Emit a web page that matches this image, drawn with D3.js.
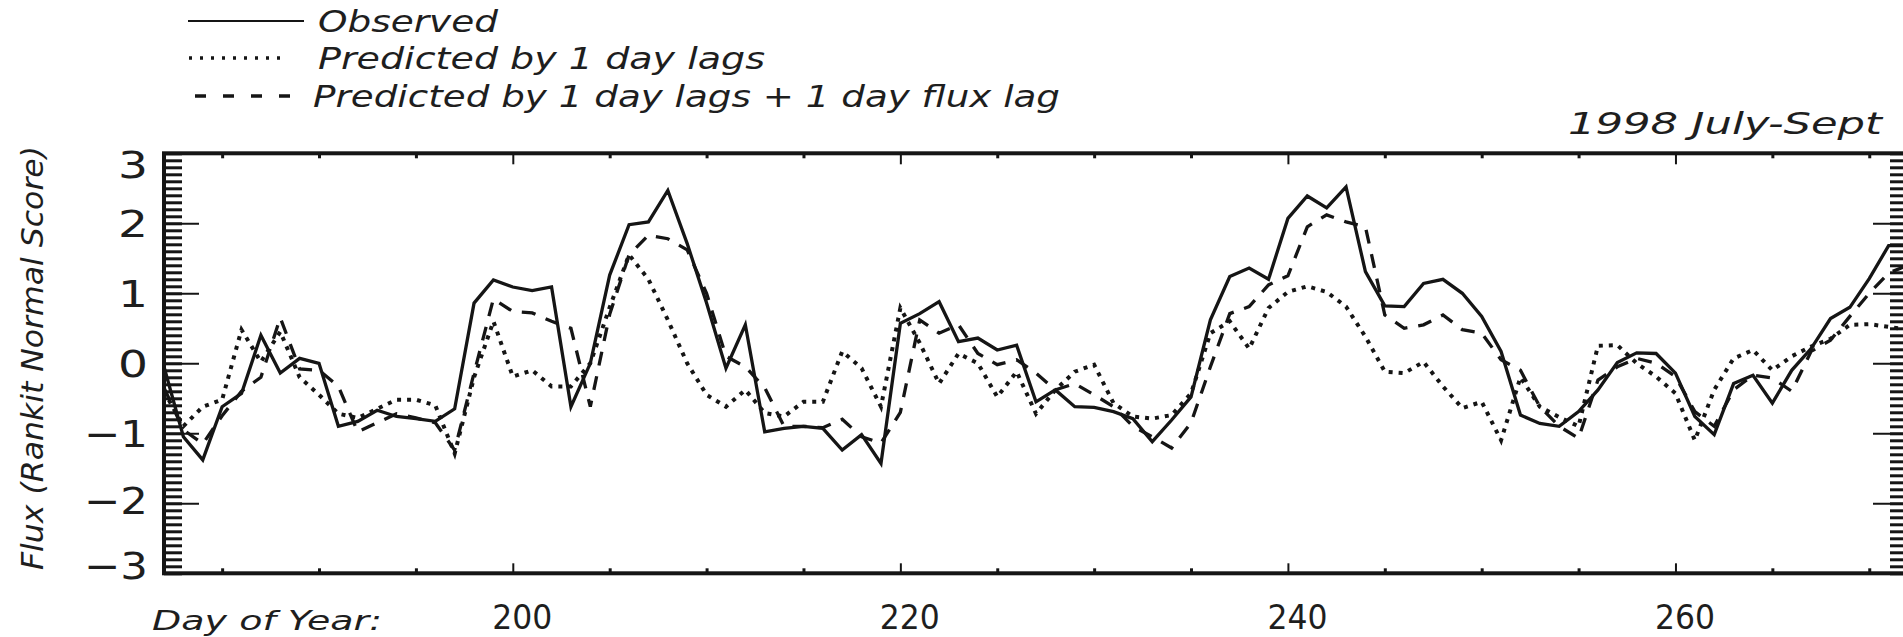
<!DOCTYPE html>
<html>
<head>
<meta charset="utf-8">
<script src="https://cdn.jsdelivr.net/npm/d3@7"></script>
<style>
  html, body { margin: 0; padding: 0; background: #fff; }
  svg { display: block; }
  text { font-family: "DejaVu Sans", Verdana, sans-serif; fill: #1e1e1e; }
</style>
</head>
<body>
<svg id="chart" width="1903" height="637"></svg>
<script>
// Daily flux, days 182..272 of 1998 (one value per day, in order)
const firstDay = 182;
const observed = [
  -0.05, -1.05, -1.38, -0.62, -0.43, 0.40, -0.14, 0.07, 0.00, -0.90,
  -0.83, -0.67, -0.76, -0.79, -0.83, -0.65, 0.86, 1.19, 1.09, 1.04,
  1.09, -0.62, 0.00, 1.26, 1.98, 2.02, 2.47, 1.71, 0.86, -0.07,
  0.55, -0.98, -0.93, -0.90, -0.93, -1.24, -1.02, -1.43, 0.57, 0.71,
  0.88, 0.31, 0.36, 0.19, 0.26, -0.55, -0.38, -0.62, -0.63, -0.69,
  -0.79, -1.12, -0.81, -0.48, 0.62, 1.24, 1.36, 1.20, 2.07, 2.39,
  2.22, 2.52, 1.31, 0.82, 0.81, 1.14, 1.20, 1.00, 0.67, 0.17,
  -0.74, -0.86, -0.90, -0.69, -0.38, 0.01, 0.15, 0.14, -0.14, -0.76,
  -1.02, -0.29, -0.17, -0.57, -0.10, 0.21, 0.64, 0.80, 1.21, 1.68,
  1.68
];
const predictedLags = [
  -0.40, -0.90, -0.62, -0.52, 0.48, 0.02, 0.45, -0.20, -0.45, -0.72,
  -0.78, -0.65, -0.52, -0.52, -0.60, -1.29, -0.20, 0.60, -0.19, -0.10,
  -0.33, -0.33, 0.00, 0.80, 1.55, 1.20, 0.62, 0.00, -0.45, -0.62,
  -0.38, -0.71, -0.76, -0.55, -0.55, 0.17, -0.07, -0.62, 0.79, 0.29,
  -0.29, 0.14, 0.00, -0.48, -0.12, -0.72, -0.38, -0.12, -0.02, -0.57,
  -0.76, -0.79, -0.74, -0.43, 0.43, 0.60, 0.21, 0.79, 1.02, 1.10,
  1.02, 0.81, 0.38, -0.12, -0.14, 0.02, -0.33, -0.64, -0.55, -1.10,
  -0.20, -0.62, -0.77, -0.90, 0.25, 0.26, 0.00, -0.19, -0.43, -1.10,
  -0.38, 0.07, 0.19, -0.10, 0.10, 0.24, 0.35, 0.55, 0.56, 0.52,
  0.48
];
const predictedLagsFlux = [
  -0.35, -0.95, -1.15, -0.75, -0.40, -0.20, 0.65, -0.08, -0.10, -0.33,
  -0.98, -0.85, -0.72, -0.78, -0.85, -1.24, -0.14, 0.92, 0.74, 0.72,
  0.60, 0.50, -0.62, 0.70, 1.55, 1.83, 1.78, 1.62, 1.00, 0.10,
  -0.05, -0.35, -0.90, -0.90, -0.92, -0.80, -1.05, -1.14, -0.70, 0.62,
  0.43, 0.55, 0.14, -0.02, 0.05, -0.14, -0.38, -0.29, -0.45, -0.62,
  -0.90, -1.05, -1.21, -0.85, -0.05, 0.71, 0.81, 1.12, 1.25, 1.95,
  2.12, 2.02, 1.95, 0.69, 0.50, 0.55, 0.69, 0.48, 0.43, 0.05,
  -0.10, -0.62, -0.90, -1.07, -0.24, -0.05, 0.07, 0.00, -0.19, -0.69,
  -0.90, -0.38, -0.17, -0.21, -0.40, 0.17, 0.33, 0.67, 1.00, 1.29,
  1.40
];

const xDomain = [182, 272];
const yDomain = [-3, 3];
const xMajorTicks = [200, 220, 240, 260];
const xMinorTicks = [185, 190, 195, 205, 210, 215, 225, 230, 235, 245, 250, 255, 265, 270];
const yMajorTicks = [-3, -2, -1, 0, 1, 2, 3];

const legendLabels = [
  "Observed",
  "Predicted by 1 day lags",
  "Predicted by 1 day lags + 1 day flux lag"
];
const periodLabel = "1998 July-Sept";
const yTitle = "Flux (Rankit Normal Score)";
const xTitle = "Day of Year:";

const svg = d3.select("#chart");
const ink = "#151515";

// plot frame
const frame = { left: 164, right: 1908, top: 153.3, bottom: 573.3 };
const x = d3.scaleLinear().domain(xDomain).range([frame.left, frame.right]);
const y = d3.scaleLinear().domain(yDomain).range([frame.bottom, frame.top]);
const yMinor = d3.range(-30, 31).map(v => v / 10);

// left axis: dense minor comb + longer thin major ticks with labels
const gL = svg.append("g").attr("transform", `translate(${frame.left},0)`);
gL.call(d3.axisLeft(y).tickValues(yMinor).tickSize(-18).tickFormat(""))
  .call(g => g.selectAll(".tick line").attr("stroke", ink).attr("stroke-width", 3));
const gL2 = svg.append("g").attr("transform", `translate(${frame.left},0)`);
gL2.call(d3.axisLeft(y).tickValues(yMajorTicks).tickSize(-35).tickPadding(16)
    .tickFormat(v => v < 0 ? "\u2212" + Math.abs(v) : String(v)))
  .call(g => g.selectAll(".tick line").attr("stroke", ink).attr("stroke-width", 2));
gL2.selectAll(".tick text")
  .attr("font-size", 38)
  .attr("fill", "#1e1e1e")
  .attr("font-family", "DejaVu Sans")
  .attr("dy", "0.36em")
  .attr("y", d => d === 3 ? 11 : d === -3 ? -8 : d === -2 ? -3 : 0)
  .attr("textLength", d => d < 0 ? 64 : 30)
  .attr("lengthAdjust", "spacingAndGlyphs");

// right axis mirrors the left one without labels
const gR = svg.append("g").attr("transform", `translate(${frame.right},0)`);
gR.call(d3.axisRight(y).tickValues(yMinor).tickSize(-18).tickFormat(""))
  .call(g => g.selectAll(".tick line").attr("stroke", ink).attr("stroke-width", 3));
const gR2 = svg.append("g").attr("transform", `translate(${frame.right},0)`);
gR2.call(d3.axisRight(y).tickValues(yMajorTicks).tickSize(-35).tickFormat(""))
  .call(g => g.selectAll(".tick line").attr("stroke", ink).attr("stroke-width", 2));

// bottom axis
const gB = svg.append("g").attr("transform", `translate(0,${frame.bottom})`);
gB.call(d3.axisBottom(x).tickValues(xMinorTicks).tickSize(-5).tickFormat(""))
  .call(g => g.selectAll(".tick line").attr("stroke", ink).attr("stroke-width", 3));
const gB2 = svg.append("g").attr("transform", `translate(0,${frame.bottom})`);
gB2.call(d3.axisBottom(x).tickValues(xMajorTicks).tickSize(-10).tickPadding(32).tickFormat(d3.format("d")))
  .call(g => g.selectAll(".tick line").attr("stroke", ink).attr("stroke-width", 2));
gB2.selectAll(".tick text")
  .attr("font-size", 34)
  .attr("fill", "#1e1e1e")
  .attr("font-family", "DejaVu Sans")
  .attr("x", 9)
  .attr("textLength", 60)
  .attr("lengthAdjust", "spacingAndGlyphs");

// top axis
const gT = svg.append("g").attr("transform", `translate(0,${frame.top})`);
gT.call(d3.axisTop(x).tickValues(xMinorTicks).tickSize(-5).tickFormat(""))
  .call(g => g.selectAll(".tick line").attr("stroke", ink).attr("stroke-width", 3));
const gT2 = svg.append("g").attr("transform", `translate(0,${frame.top})`);
gT2.call(d3.axisTop(x).tickValues(xMajorTicks).tickSize(-11).tickFormat(""))
  .call(g => g.selectAll(".tick line").attr("stroke", ink).attr("stroke-width", 2));

svg.selectAll(".domain").remove();

// frame
svg.append("rect")
  .attr("x", frame.left).attr("y", frame.top)
  .attr("width", frame.right - frame.left).attr("height", frame.bottom - frame.top)
  .attr("fill", "none").attr("stroke", ink).attr("stroke-width", 4);

// series
const line = d3.line()
  .x((d, i) => x(firstDay + i))
  .y(d => y(d));

const series = [
  { values: predictedLags, dash: "4,6", width: 4 },
  { values: predictedLagsFlux, dash: "14,11", width: 3.3 },
  { values: observed, dash: null, width: 3.3 }
];
svg.append("g").selectAll("path").data(series).join("path")
  .attr("d", d => line(d.values))
  .attr("fill", "none")
  .attr("stroke", ink)
  .attr("stroke-width", d => d.width)
  .attr("stroke-linejoin", "miter")
  .attr("stroke-dasharray", d => d.dash);

// legend
const legendRows = [
  { label: legendLabels[0], dash: null, x0: 188, x1: 304, tx: 318, len: 180, base: 32 },
  { label: legendLabels[1], dash: "3,8", x0: 189, x1: 282, tx: 318, len: 447, base: 69 },
  { label: legendLabels[2], dash: "11,17", x0: 195, x1: 304, tx: 313, len: 747, base: 107 }
];
const lg = svg.append("g");
lg.selectAll("line").data(legendRows).join("line")
  .attr("x1", d => d.x0).attr("x2", d => d.x1)
  .attr("y1", d => d.base - 11).attr("y2", d => d.base - 11)
  .attr("stroke", ink).attr("stroke-width", d => d.dash ? 3.4 : 2.2)
  .attr("stroke-dasharray", d => d.dash);
lg.selectAll("text").data(legendRows).join("text")
  .attr("x", d => d.tx).attr("y", d => d.base)
  .attr("font-size", 31).attr("font-style", "italic")
  .attr("textLength", d => d.len).attr("lengthAdjust", "spacingAndGlyphs")
  .text(d => d.label);

// period label
svg.append("text")
  .attr("x", 1568).attr("y", 134)
  .attr("font-size", 30).attr("font-style", "italic")
  .attr("textLength", 314).attr("lengthAdjust", "spacingAndGlyphs")
  .text(periodLabel);

// x title
svg.append("text")
  .attr("x", 152).attr("y", 630)
  .attr("font-size", 26).attr("font-style", "italic")
  .attr("textLength", 230).attr("lengthAdjust", "spacingAndGlyphs")
  .text(xTitle);

// y title
svg.append("text")
  .attr("transform", "translate(43,358) rotate(-90)")
  .attr("text-anchor", "middle")
  .attr("font-size", 31).attr("font-style", "italic")
  .attr("textLength", 424).attr("lengthAdjust", "spacingAndGlyphs")
  .text(yTitle);
</script>
</body>
</html>
